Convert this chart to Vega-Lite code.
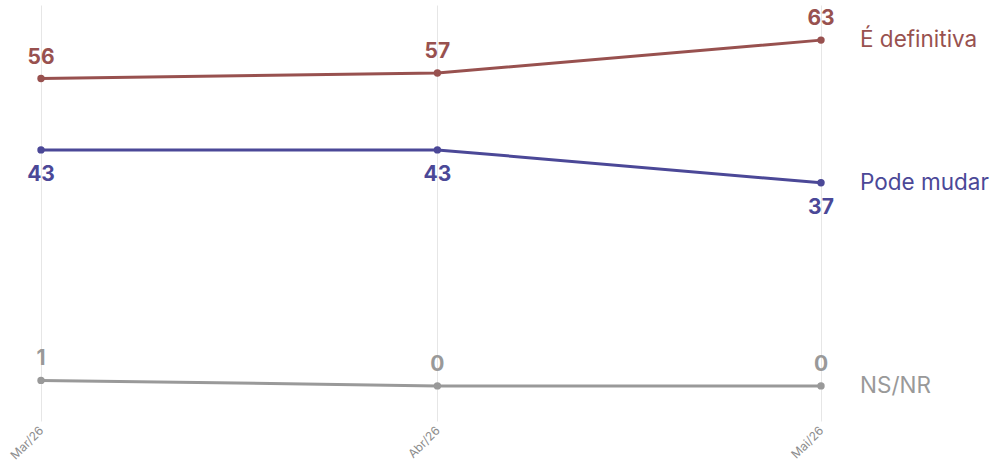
{
  "$schema": "https://vega.github.io/schema/vega-lite/v6.json",
  "width": 780,
  "height": 416,
  "autosize": {"type": "none"},
  "padding": {"left": 41, "top": 5, "right": 172, "bottom": 46},
  "background": "white",
  "config": {"view": {"stroke": null}, "font": "Inter"},
  "data": {
    "values": [
      {"data": "2026-03-01", "serie": "É definitiva", "valor": 56},
      {"data": "2026-04-01", "serie": "É definitiva", "valor": 57},
      {"data": "2026-05-01", "serie": "É definitiva", "valor": 63},
      {"data": "2026-03-01", "serie": "Pode mudar", "valor": 43},
      {"data": "2026-04-01", "serie": "Pode mudar", "valor": 43},
      {"data": "2026-05-01", "serie": "Pode mudar", "valor": 37},
      {"data": "2026-03-01", "serie": "NS/NR", "valor": 1},
      {"data": "2026-04-01", "serie": "NS/NR", "valor": 0},
      {"data": "2026-05-01", "serie": "NS/NR", "valor": 0}
    ]
  },
  "encoding": {
    "x": {
      "field": "data",
      "type": "temporal",
      "scale": {"type": "utc", "domain": [{"year": 2026, "month": 3, "date": 1, "utc": true}, {"year": 2026, "month": 5, "date": 1, "utc": true}]},
      "axis": {
        "title": null,
        "values": [{"year": 2026, "month": 3, "date": 1, "utc": true}, {"year": 2026, "month": 4, "date": 1, "utc": true}, {"year": 2026, "month": 5, "date": 1, "utc": true}],
        "labelExpr": "['Jan','Fev','Mar','Abr','Mai','Jun','Jul','Ago','Set','Out','Nov','Dez'][utcmonth(datum.value)] + '/' + utcFormat(datum.value, '%y')",
        "labelAngle": -45,
        "labelAlign": "right",
        "labelBaseline": "middle",
        "labelFontSize": 12,
        "labelColor": "#8c8c8c",
        "labelPadding": 7,
        "ticks": false,
        "domain": false,
        "grid": true,
        "gridColor": "#e6e6e6",
        "gridWidth": 1
      }
    },
    "y": {
      "field": "valor",
      "type": "quantitative",
      "scale": {"domain": [-6.4, 69.4], "nice": false, "zero": false},
      "axis": null
    },
    "color": {
      "field": "serie",
      "type": "nominal",
      "scale": {"domain": ["É definitiva", "Pode mudar", "NS/NR"], "range": ["#98514f", "#4b4897", "#999999"]},
      "legend": null
    }
  },
  "layer": [
    {"mark": {"type": "line", "strokeWidth": 3, "clip": false}},
    {"mark": {"type": "point", "filled": true, "size": 55, "opacity": 1, "clip": false}},
    {
      "transform": [{"filter": "datum.serie !== 'Pode mudar'"}],
      "mark": {"type": "text", "fontSize": 21, "fontWeight": "bold", "dy": -21, "baseline": "middle", "clip": false},
      "encoding": {"text": {"field": "valor", "type": "quantitative"}}
    },
    {
      "transform": [{"filter": "datum.serie === 'Pode mudar'"}],
      "mark": {"type": "text", "fontSize": 21, "fontWeight": "bold", "dy": 25, "baseline": "middle", "clip": false},
      "encoding": {"text": {"field": "valor", "type": "quantitative"}}
    },
    {
      "transform": [{"filter": "utcmonth(toDate(datum.data)) === 4"}],
      "mark": {"type": "text", "fontSize": 22.5, "align": "left", "baseline": "middle", "dx": 39, "clip": false},
      "encoding": {"text": {"field": "serie", "type": "nominal"}}
    }
  ]
}
